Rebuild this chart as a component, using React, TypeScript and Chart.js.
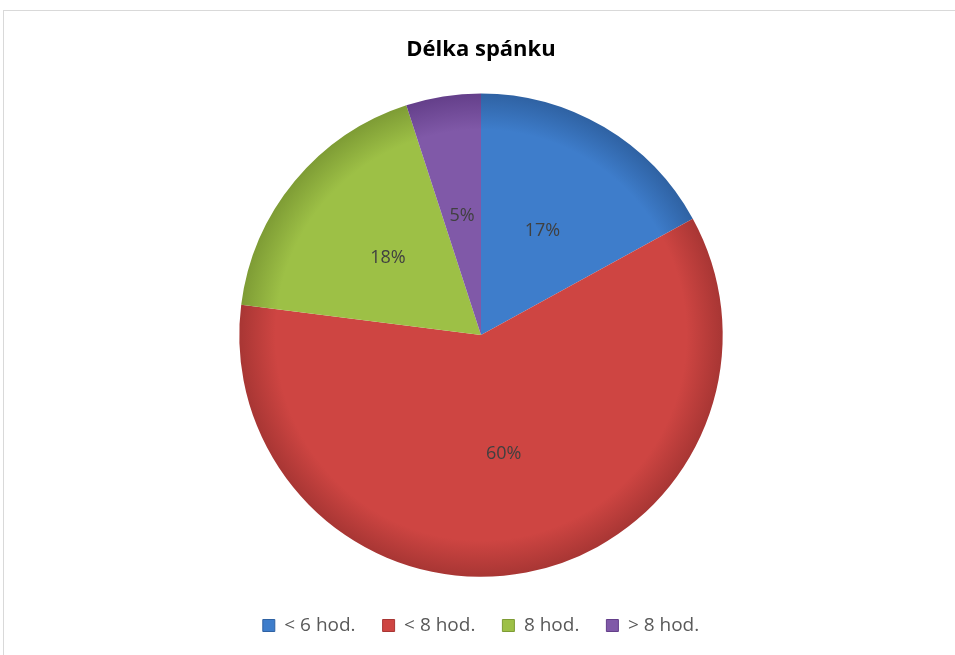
import React, { useEffect, useRef } from "react";
import { Chart, registerables } from "chart.js";

Chart.register(...registerables);

const title = "Délka spánku";
const categories = ["< 6 hod.", "< 8 hod.", "8 hod.", "> 8 hod."];
const values = [17, 60, 18, 5];
const colors = ["#3E7DCB", "#CE4542", "#9DC046", "#8059A8"];
const darkColors = ["#2F62A3", "#A83634", "#7E9C35", "#643F8A"];

const FONT = "'Open Sans', 'Noto Sans', sans-serif";

const labelPlugin = {
  id: "pctLabels",
  afterDatasetsDraw(chart: any) {
    const ctx = chart.ctx;
    const meta = chart.getDatasetMeta(0);
    const total = values.reduce((a, b) => a + b, 0);
    ctx.save();
    ctx.font = `18px ${FONT}`;
    ctx.fillStyle = "#404040";
    ctx.textAlign = "center";
    ctx.textBaseline = "middle";
    meta.data.forEach((arc: any, i: number) => {
      const p = arc.tooltipPosition();
      ctx.fillText(`${Math.round((values[i] / total) * 100)}%`, p.x, p.y);
    });
    ctx.restore();
  },
};

export default function App() {
  const ref = useRef<HTMLCanvasElement | null>(null);
  useEffect(() => {
    if (!ref.current) return;
    const chart = new Chart(ref.current, {
      type: "pie",
      data: {
        labels: categories,
        datasets: [
          {
            data: values,
            backgroundColor: (c: any) => {
              const i = c.dataIndex;
              const area = c.chart.chartArea;
              if (!area) return colors[i];
              const cx = (area.left + area.right) / 2;
              const cy = (area.top + area.bottom) / 2;
              const r = Math.min(area.right - area.left, area.bottom - area.top) / 2;
              const g = c.chart.ctx.createRadialGradient(cx, cy, 0, cx, cy, r);
              g.addColorStop(0, colors[i]);
              g.addColorStop(0.85, colors[i]);
              g.addColorStop(1, darkColors[i]);
              return g;
            },
            borderWidth: 0,
          },
        ],
      },
      options: {
        responsive: false,
        animation: false,
        layout: { padding: { left: 10, right: 3, top: 0, bottom: 10 } },
        plugins: {
          title: {
            display: true,
            text: title,
            color: "#000000",
            font: { family: FONT, size: 22, weight: "bold" },
            padding: { top: 37, bottom: 30 },
          },
          legend: {
            position: "bottom",
            title: {
              display: true,
              text: "",
              font: { size: 1 },
              padding: { top: 11, bottom: 0 },
            },
            labels: {
              color: "#595959",
              font: { family: FONT, size: 19 },
              boxWidth: 12,
              boxHeight: 12,
              padding: 27,
              generateLabels: (ch: any) =>
                categories.map((t, i) => ({
                  text: t,
                  fillStyle: colors[i],
                  strokeStyle: darkColors[i],
                  lineWidth: 1,
                  hidden: false,
                  index: i,
                  fontColor: "#595959",
                })),
            },
          },
          tooltip: { enabled: false },
        },
      },
      plugins: [labelPlugin],
    });
    return () => chart.destroy();
  }, []);
  return (
    <div style={{ position: "fixed", left: 0, top: 0, width: 955, height: 655, background: "#fff", overflow: "hidden" }}>
      <div
        style={{
          position: "absolute",
          left: 3,
          top: 10,
          width: 980,
          height: 680,
          border: "1px solid #D9D9D9",
          boxSizing: "border-box",
        }}
      />
      <canvas ref={ref} width={955} height={655} style={{ position: "absolute", left: 0, top: 0 }} />
    </div>
  );
}
